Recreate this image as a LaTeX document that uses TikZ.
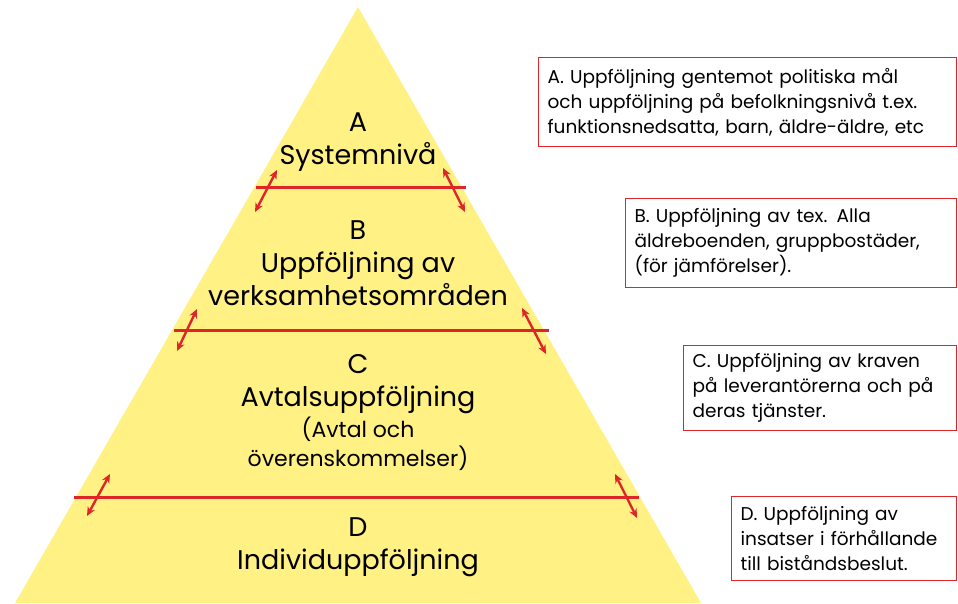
\documentclass[tikz,border=0pt]{standalone}
\usepackage{fontspec}
\setmainfont{Poppins}
\usetikzlibrary{arrows.meta}
\definecolor{pyryellow}{RGB}{255,241,132}
\definecolor{pyrred}{RGB}{222,38,40}

\tikzset{
  level/.style={align=center,font=\fontsize{27}{33}\selectfont},
  note/.style={draw=pyrred,line width=1.2pt,anchor=north west,align=left,
    inner xsep=9pt,font=\fontsize{18.5}{25}\selectfont},
  divider/.style={pyrred,line width=3pt},
  crossarrow/.style={pyrred,line width=2.4pt,{Stealth[length=9pt,width=8pt]}-{Stealth[length=9pt,width=8pt]}}
}

\begin{document}
\begin{tikzpicture}[x=1pt,y=-1pt]
  \useasboundingbox (0,0) rectangle (958,603);
  \fill[pyryellow] (358,7) -- (701,603) -- (15,603) -- cycle;

  % levels of the pyramid
  \node[level] (lvA) at (358,142) {A\\Systemnivå};
  \node[level] (lvB) at (358,263) {B\\Uppföljning av\\verksamhetsområden};
  \node[level] (lvC) at (358,413) {C\\Avtalsuppföljning\\[-2pt]
    {\fontsize{22}{30}\selectfont (Avtal och}\\[-4pt]{\fontsize{22}{30}\selectfont överenskommelser)}};
  \node[level] (lvD) at (358,547) {D\\Individuppföljning};

  % borders between levels
  \coordinate (ab1) at (256,187); \coordinate (ab2) at (466,187);
  \coordinate (bc1) at (174,330); \coordinate (bc2) at (549,330);
  \coordinate (cd1) at (74,497);  \coordinate (cd2) at (639,497);
  \draw[divider] (ab1) -- (ab2);
  \draw[divider] (bc1) -- (bc2);
  \draw[divider] (cd1) -- (cd2);

  % arrows across the borders
  \coordinate (a1) at (255,212); \coordinate (a2) at (277,170);
  \coordinate (a3) at (443,168); \coordinate (a4) at (465,212);
  \coordinate (b1) at (177,351); \coordinate (b2) at (197,309);
  \coordinate (b3) at (522,308); \coordinate (b4) at (546,354);
  \coordinate (c1) at (87,516);  \coordinate (c2) at (110,474);
  \coordinate (c3) at (615,474); \coordinate (c4) at (637,518);
  \draw[crossarrow] (a1) -- (a2); \draw[crossarrow] (a3) -- (a4);
  \draw[crossarrow] (b1) -- (b2); \draw[crossarrow] (b3) -- (b4);
  \draw[crossarrow] (c1) -- (c2); \draw[crossarrow] (c3) -- (c4);

  % notes on the right
  \node[note,minimum width=418pt,minimum height=89pt,text width=400pt] (noteA) at (538,57)
    {A. Uppföljning gentemot politiska mål\\och uppföljning på befolkningsnivå t.ex.\\funktionsnedsatta, barn, äldre-äldre, etc};
  \node[note,minimum width=331pt,minimum height=89pt,text width=313pt] (noteB) at (625,198)
    {B. Uppföljning av tex. Alla\\äldreboenden, gruppbostäder,\\(för jämförelser).};
  \node[note,minimum width=273pt,minimum height=85pt,text width=255pt] (noteC) at (683,345)
    {C. Uppföljning av kraven\\på leverantörerna och på\\deras tjänster.};
  \node[note,minimum width=225pt,minimum height=84pt,text width=207pt] (noteD) at (731,496)
    {D. Uppföljning av\\insatser i förhållande\\till biståndsbeslut.};
\end{tikzpicture}
\end{document}
